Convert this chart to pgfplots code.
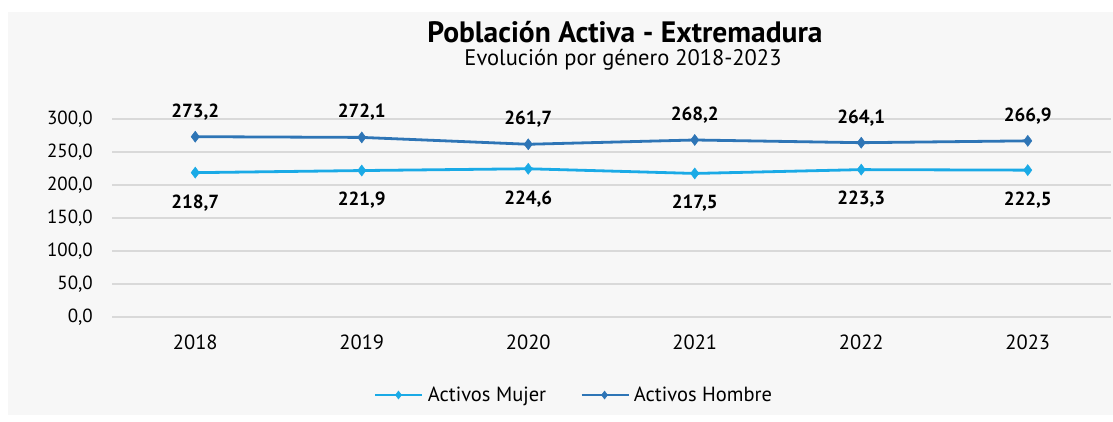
\documentclass[border=0pt]{standalone}
\usepackage{pgfplots}
\pgfplotsset{compat=1.18}
\usepackage{fontspec}
\setmainfont{PT Sans}
\definecolor{mujer}{HTML}{1AAAE6}
\definecolor{hombre}{HTML}{2E75B6}
\definecolor{panel}{HTML}{F7F7F7}
\definecolor{gridc}{HTML}{D9D9D9}
\begin{document}
\begin{tikzpicture}[x=1pt,y=1pt]
\useasboundingbox (0,0) rectangle (1113,422);
\fill[white] (0,0) rectangle (1113,422);
\fill[panel] (8,7) rectangle (1113,410);
\node[font=\fontsize{29.5}{32}\selectfont\bfseries, anchor=base] at (625,379) {Población Activa - Extremadura};
\node[font=\fontsize{22.5}{25}\selectfont, anchor=base] at (623,356) {Evolución por género 2018-2023};
\begin{axis}[
  at={(112pt,105pt)}, anchor=south west,
  scale only axis, width=999pt, height=198pt,
  xmin=-0.5, xmax=5.5, ymin=0, ymax=300,
  xtick={0,1,2,3,4,5},
  xticklabels={2018,2019,2020,2021,2022,2023},
  ytick={0,50,100,150,200,250,300},
  ymajorgrids, grid style={gridc, line width=1.5pt},
  axis line style={draw=none},
  tick style={draw=none},
  /pgf/number format/.cd, fixed, fixed zerofill, precision=1, use comma, assume math mode=true,
  /pgfplots/.cd,
  yticklabel style={font=\fontsize{19}{22}\selectfont, anchor=east, inner sep=0pt, xshift=-19pt},
  xticklabel style={font=\fontsize{20.5}{22}\selectfont, anchor=center, inner sep=0pt, yshift=-25pt},
  clip=false,
  legend columns=2,
  legend style={at={(0.4625,-0.394)}, anchor=center, draw=none, fill=none,
    font=\fontsize{20.5}{22}\selectfont, /tikz/every even column/.append style={column sep=32pt},
    /tikz/every odd column/.append style={column sep=2pt}},
  legend image code/.code={\draw[#1, line width=2.8pt, mark size=4pt, mark repeat=2, mark phase=2] plot coordinates {(0pt,0pt) (23pt,0pt) (47pt,0pt)};},
  nodes near coords={\pgfmathprintnumber[fixed,fixed zerofill,precision=1,use comma,assume math mode=true]{\pgfplotspointmeta}},
]
\addplot[color=mujer, line width=2.8pt, mark=diamond*, mark size=5.5pt, mark options={fill=mujer, line width=0.5pt},
  every node near coord/.append style={font=\fontsize{19}{22}\selectfont\bfseries, text=black, anchor=center, yshift=-30pt}]
  coordinates {(0,218.7) (1,221.9) (2,224.6) (3,217.5) (4,223.3) (5,222.5)};
\addlegendentry{Activos Mujer}
\addplot[color=hombre, line width=2.8pt, mark=diamond*, mark size=5.5pt, mark options={fill=hombre, line width=0.5pt},
  every node near coord/.append style={font=\fontsize{19}{22}\selectfont\bfseries, text=black, anchor=center, yshift=25pt}]
  coordinates {(0,273.2) (1,272.1) (2,261.7) (3,268.2) (4,264.1) (5,266.9)};
\addlegendentry{Activos Hombre}
\end{axis}
\end{tikzpicture}
\end{document}
